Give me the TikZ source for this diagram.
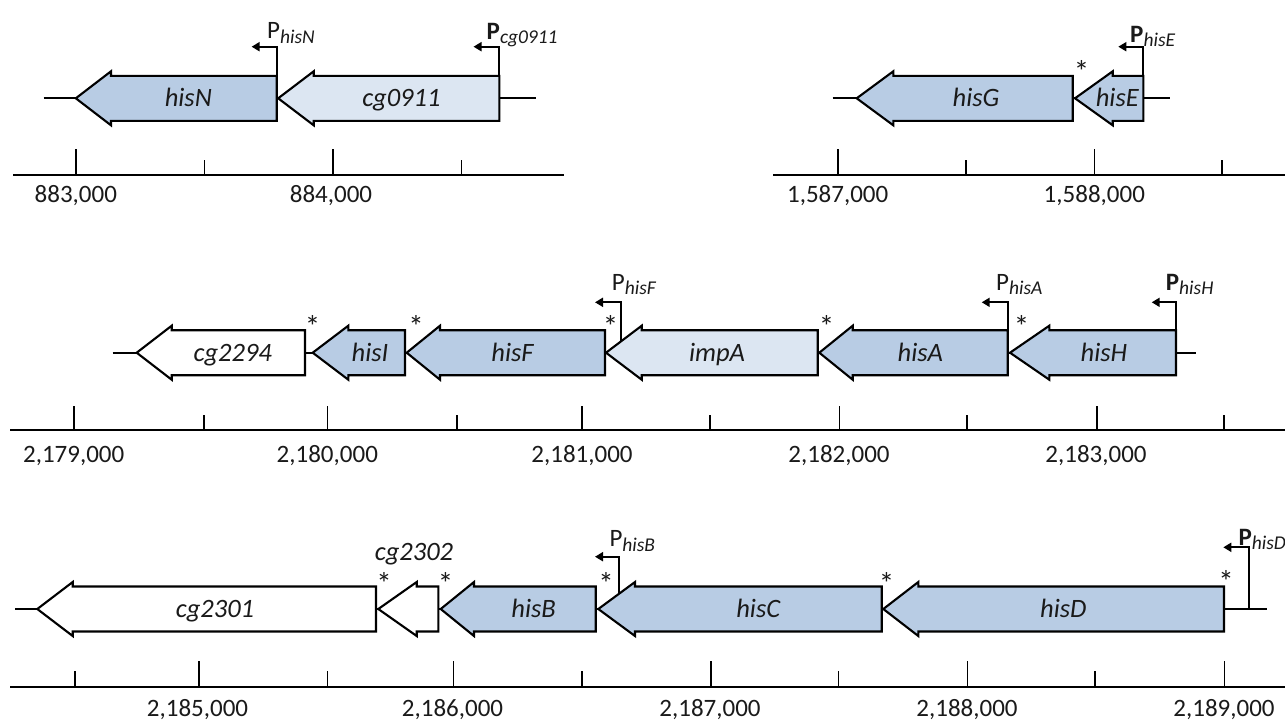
\documentclass[tikz,border=0pt]{standalone}
\usepackage{fontspec}
\setmainfont{Carlito}
\usetikzlibrary{arrows.meta}
\definecolor{hisblue}{HTML}{B8CCE4}
\definecolor{paleblue}{HTML}{DCE6F2}
\definecolor{ink}{HTML}{1A1A1A}
\tikzset{
  geneline/.style={draw=black, line width=2.1pt, line join=miter},
  genelabel/.style={anchor=base, inner sep=0pt, font=\fontsize{26.5}{26.5}\selectfont\itshape, text=ink},
  backbone/.style={line width=1.8pt},
  prom/.style={line width=1.9pt, -{Triangle[length=8pt,width=9pt]}},
  plabel/.style={anchor=base west, inner sep=0pt, text=ink},
  axisline/.style={line width=1.6pt},
  ticklabel/.style={anchor=base, inner sep=0pt, font=\fontsize{25}{25}\selectfont, text=ink},
  starmark/.style={anchor=center, inner sep=0pt, font=\fontsize{31}{31}\selectfont, text=ink},
}
% #1 name, #2 fill, #3 tip x, #4 head-back x, #5 right x, #6 centre y, #7 label, #8 label x
\newcommand{\genearrow}[8]{%
  \draw[geneline, fill=#2] (#3,#6) -- (#4,#6-27) -- (#4,#6-22.5) -- (#5,#6-22.5)
     -- (#5,#6+22.5) -- (#4,#6+22.5) -- (#4,#6+27) -- cycle;
  \node[genelabel] (#1) at (#8,#6+8.5) {#7};}
\newcommand{\Preg}[1]{\fontsize{25}{25}\selectfont P\raisebox{-4.5pt}{\fontsize{19.5}{19.5}\selectfont\itshape #1}}
\newcommand{\Pbold}[1]{\fontsize{25}{25}\selectfont\textbf{P}\raisebox{-4.5pt}{\fontsize{19.5}{19.5}\selectfont\itshape #1}}
\begin{document}
\begin{tikzpicture}[x=1pt, y=-1pt]
\path[use as bounding box] (0,0) rectangle (1285,721);

% ================= Row 1 left =================
\coordinate (r1la) at (43.7,98.3);
\coordinate (r1lb) at (536.4,98.3);
\draw[backbone] (r1la) -- (r1lb);
\coordinate (pN) at (276.7,98.3);
\coordinate (pNt) at (251.6,46.7);
\draw[prom] (pN) |- (pNt);
\coordinate (pC) at (499.4,98.3);
\coordinate (pCt) at (473.5,46.7);
\draw[prom] (pC) |- (pCt);
\genearrow{hisN}{hisblue}{75.8}{111}{276.7}{98.3}{hisN}{188.3}
\genearrow{cg0911}{paleblue}{278.2}{313.7}{499.4}{98.3}{cg0911}{401.4}
\node[plabel] (PhisN) at (267,38.5) {\Preg{hisN}};
\node[plabel] (Pcg0911) at (486.5,39) {\Pbold{cg0911}};
\draw[axisline] (13,175) -- (564.2,175);
\foreach \x in {75.8,333} \draw[axisline] (\x,175) -- (\x,149.3);
\foreach \x in {204.6,461.3} \draw[axisline] (\x,175) -- (\x,160);
\node[ticklabel] (t883) at (75.8,202) {883,000};
\node[ticklabel] (t884) at (331,202) {884,000};

% ================= Row 1 right =================
\coordinate (r1ra) at (832.7,98.3);
\coordinate (r1rb) at (1170,98.3);
\draw[backbone] (r1ra) -- (r1rb);
\coordinate (pE) at (1143.3,98.3);
\coordinate (pEt) at (1118.3,46.7);
\draw[prom] (pE) |- (pEt);
\genearrow{hisG}{hisblue}{856.7}{893.3}{1072.7}{98.3}{hisG}{976}
\genearrow{hisE}{hisblue}{1075}{1112.7}{1143.3}{98.3}{hisE}{1117.3}
\node[plabel] (PhisE) at (1130,42) {\Pbold{hisE}};
\node[starmark] (s1) at (1081.7,71) {*};
\draw[axisline] (773.3,175) -- (1285,175);
\foreach \x in {837.7,1094.3} \draw[axisline] (\x,175) -- (\x,149.3);
\foreach \x in {966,1221.7} \draw[axisline] (\x,175) -- (\x,160);
\node[ticklabel] (t1587) at (837.7,202) {1,587,000};
\node[ticklabel] (t1588) at (1094.3,202) {1,588,000};

% ================= Row 2 =================
\coordinate (r2a) at (112.7,352.7);
\coordinate (r2b) at (1196,352.7);
\draw[backbone] (r2a) -- (r2b);
\coordinate (pF) at (620.7,352.7);
\coordinate (pFt) at (595,302.3);
\draw[prom] (pF) |- (pFt);
\coordinate (pA) at (1007.7,352.7);
\coordinate (pAt) at (981.7,302.3);
\draw[prom] (pA) |- (pAt);
\coordinate (pH) at (1176,352.7);
\coordinate (pHt) at (1151.7,302.3);
\draw[prom] (pH) |- (pHt);
\genearrow{cg2294}{white}{136.7}{171.7}{305}{352.7}{cg2294}{232.8}
\genearrow{hisI}{hisblue}{312.7}{348.3}{405}{352.7}{hisI}{370}
\genearrow{hisF}{hisblue}{406.7}{440}{605}{352.7}{hisF}{512.5}
\genearrow{impA}{paleblue}{606}{641.7}{817.7}{352.7}{impA}{717}
\genearrow{hisA}{hisblue}{819.3}{852.7}{1007.7}{352.7}{hisA}{920.3}
\genearrow{hisH}{hisblue}{1010}{1049.3}{1176}{352.7}{hisH}{1104}
\node[plabel] (PhisF) at (611.7,290) {\Preg{hisF}};
\node[plabel] (PhisA) at (996,290) {\Preg{hisA}};
\node[plabel] (PhisH) at (1165.7,290) {\Pbold{hisH}};
\foreach \x [count=\i] in {312.7,416,610.7,826.7,1021.7}
  \node[starmark] (s2\i) at (\x,326.5) {*};
\draw[axisline] (10,430) -- (1285,430);
\foreach \x in {74,327.3,581.7,839.3,1096.7} \draw[axisline] (\x,430) -- (\x,405.7);
\foreach \x in {204,456.7,710,966.7,1224} \draw[axisline] (\x,430) -- (\x,415);
\node[ticklabel] (t2179) at (73.7,462.7) {2,179,000};
\node[ticklabel] (t2180) at (327.3,462.7) {2,180,000};
\node[ticklabel] (t2181) at (582,462.7) {2,181,000};
\node[ticklabel] (t2182) at (839,462.7) {2,182,000};
\node[ticklabel] (t2183) at (1096,462.7) {2,183,000};

% ================= Row 3 =================
\coordinate (r3a) at (15,609);
\coordinate (r3b) at (1266.7,609);
\draw[backbone] (r3a) -- (r3b);
\coordinate (pB) at (619.3,609);
\coordinate (pBt) at (595,556.7);
\draw[prom] (pB) |- (pBt);
\coordinate (pD) at (1249.3,609);
\coordinate (pDt) at (1223.3,547.3);
\draw[prom] (pD) |- (pDt);
\genearrow{cg2301}{white}{37.3}{72.7}{376}{609}{cg2301}{215}
\genearrow{cg2302box}{white}{378.3}{416.7}{438.3}{609}{}{414}
\genearrow{hisB}{hisblue}{440.7}{474}{595.7}{609}{hisB}{533.7}
\genearrow{hisC}{hisblue}{598.3}{635}{881.7}{609}{hisC}{758.3}
\genearrow{hisD}{hisblue}{883.3}{918.3}{1224}{609}{hisD}{1063.3}
\node[genelabel] (cg2302) at (414,560) {cg2302};
\node[plabel] (PhisB) at (609.3,546.7) {\Preg{hisB}};
\node[plabel] (PhisD) at (1238.3,545) {\Pbold{hisD}};
\foreach \x [count=\i] in {384,445.7,606,886.7}
  \node[starmark] (s3\i) at (\x,583) {*};
\node[starmark] (s35) at (1226,581.5) {*};
\draw[axisline] (10,686.7) -- (1285,686.7);
\foreach \x in {199,453.3,710.7,967.5,1224.3} \draw[axisline] (\x,686.7) -- (\x,660.7);
\foreach \x in {75,327.3,581.7,838.3,1095} \draw[axisline] (\x,686.7) -- (\x,671);
\node[ticklabel] (t2185) at (197.5,716) {2,185,000};
\node[ticklabel] (t2186) at (452.5,716) {2,186,000};
\node[ticklabel] (t2187) at (710,716) {2,187,000};
\node[ticklabel] (t2188) at (967,716) {2,188,000};
\node[ticklabel] (t2189) at (1224,716) {2,189,000};
\end{tikzpicture}
\end{document}
